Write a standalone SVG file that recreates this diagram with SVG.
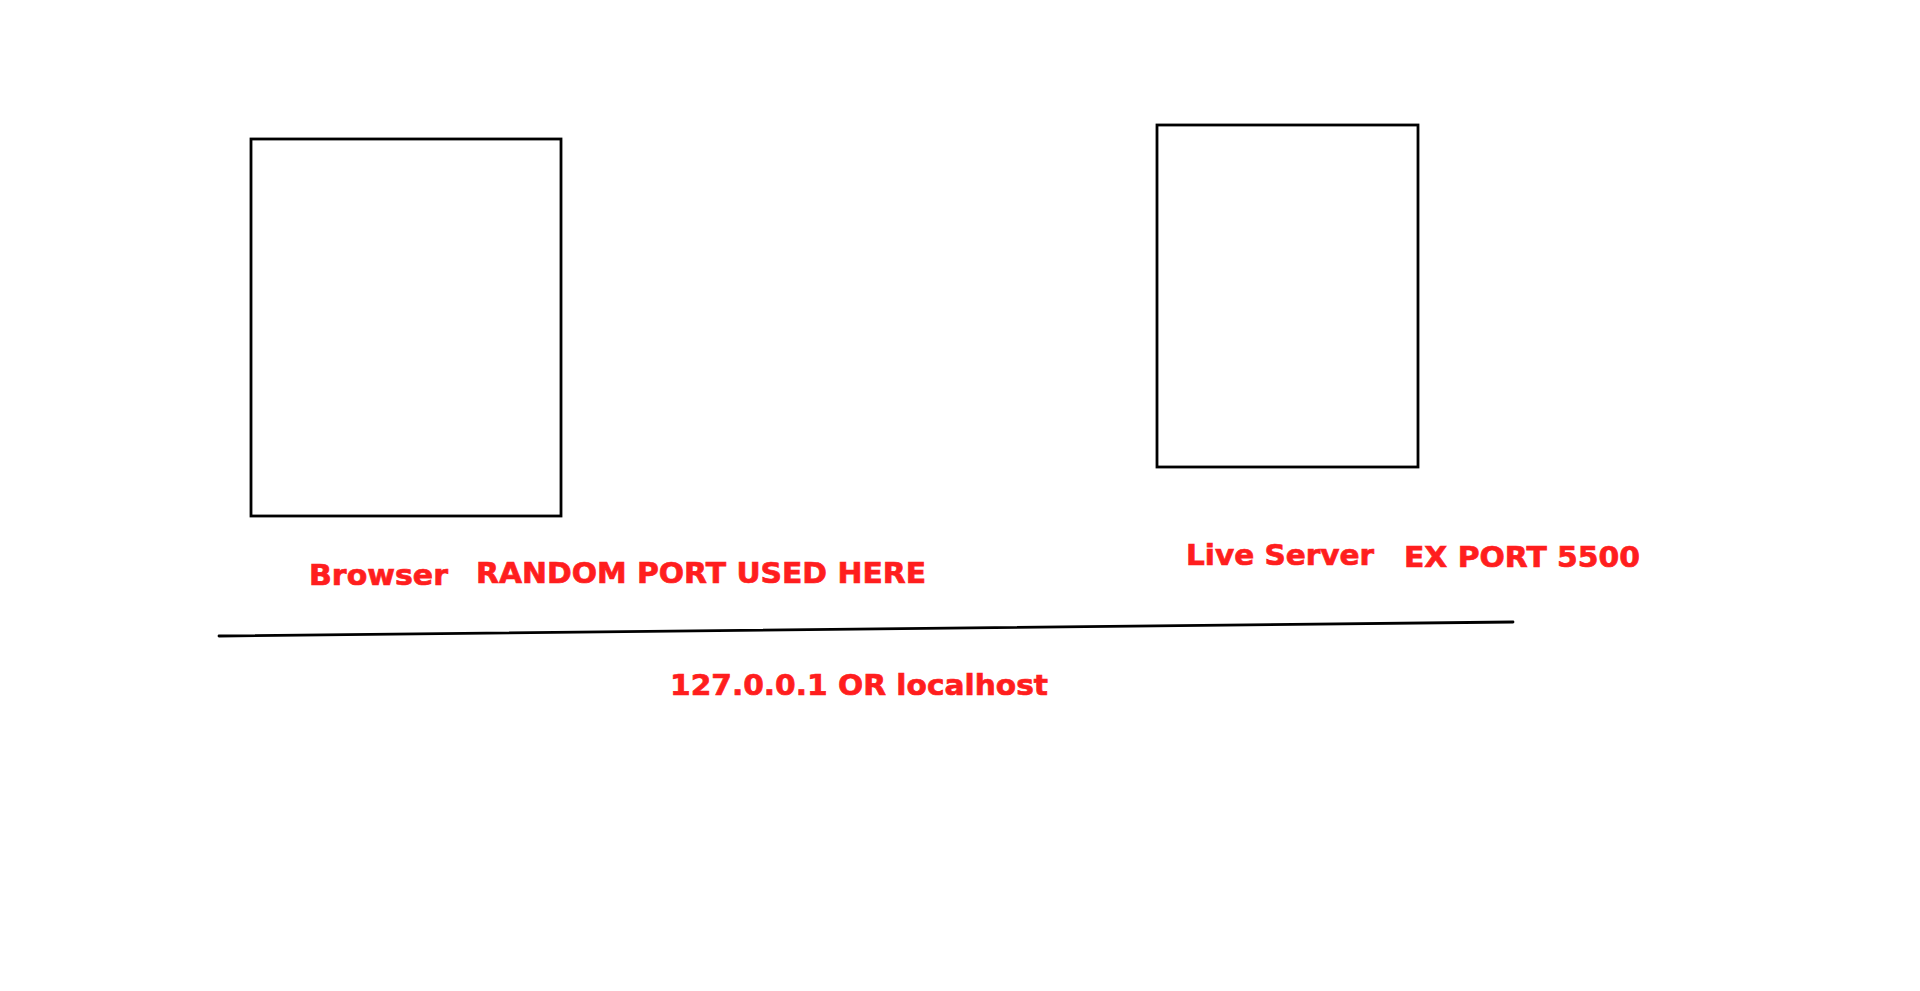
<svg xmlns="http://www.w3.org/2000/svg" width="1920" height="991" viewBox="0 0 1920 991">
<style>
.box{fill:#ffffff;stroke:#000000;stroke-width:2.8}
.conn{stroke:#000000;stroke-width:2.8;fill:none;stroke-linecap:round}
.lbl{font-family:"DejaVu Sans","Verdana",sans-serif;font-weight:bold;font-size:29px;fill:#ff1e1e;stroke:#ff1e1e;stroke-width:0.7}
</style>
<rect x="0" y="0" width="1920" height="991" fill="#ffffff"/>
<g id="browser">
<rect class="box" x="251" y="139" width="310" height="377"/>
<text class="lbl" x="309" y="585" textLength="139" lengthAdjust="spacingAndGlyphs">Browser</text>
</g>
<g id="random-port">
<text class="lbl" x="476" y="583" textLength="450" lengthAdjust="spacingAndGlyphs">RANDOM PORT USED HERE</text>
</g>
<g id="live-server">
<rect class="box" x="1157" y="125" width="261" height="342"/>
<text class="lbl" x="1186" y="565" textLength="188" lengthAdjust="spacingAndGlyphs">Live Server</text>
</g>
<g id="ex-port">
<text class="lbl" x="1404" y="567" textLength="236" lengthAdjust="spacingAndGlyphs">EX PORT 5500</text>
</g>
<g id="connectors">
<line class="conn" x1="219" y1="636" x2="1513" y2="622"/>
</g>
<g id="localhost">
<text class="lbl" x="670" y="695" textLength="378" lengthAdjust="spacingAndGlyphs">127.0.0.1 OR localhost</text>
</g>
</svg>
